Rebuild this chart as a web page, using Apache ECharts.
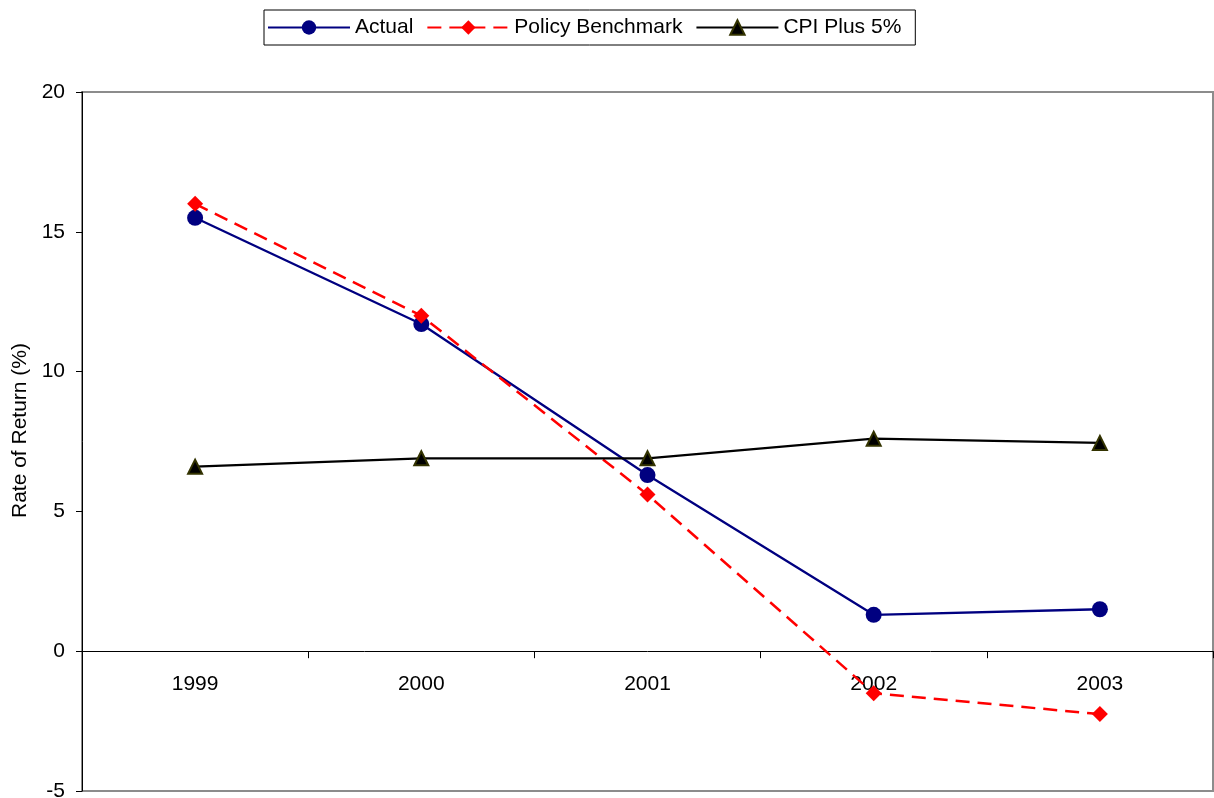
<!DOCTYPE html>
<html>
<head>
<meta charset="utf-8">
<script src="https://cdn.jsdelivr.net/npm/echarts@6/dist/echarts.min.js"></script>
<style>
  html, body { margin: 0; padding: 0; background: #fff; }
  #chart { width: 1214px; height: 798px; }
</style>
</head>
<body>
<div id="chart"></div>
<script>
var years = ['1999', '2000', '2001', '2002', '2003'];
var actual = [15.5, 11.7, 6.3, 1.3, 1.5];
var policyBenchmark = [16.0, 12.0, 5.6, -1.5, -2.25];
var cpiPlus5 = [6.6, 6.9, 6.9, 7.6, 7.45];

var myChart = echarts.init(document.getElementById('chart'));
var font = '"Liberation Sans", Arial, sans-serif';

var option = {
  animation: false,
  textStyle: { fontFamily: font },
  legend: {
    left: 264,
    top: 10,
    padding: [7, 14, 7, 3],
    itemGap: 13,
    itemWidth: 82,
    itemHeight: 18,
    borderColor: '#000',
    borderWidth: 1,
    textStyle: { fontSize: 21, color: '#000', fontFamily: font },
    data: ['Actual', 'Policy Benchmark', 'CPI Plus 5%']
  },
  grid: {
    left: 82,
    right: 1,
    top: 92,
    bottom: 7,
    show: true,
    borderColor: '#8c8c8c',
    borderWidth: 2,
    containLabel: false,
    outerBoundsMode: 'none'
  },
  xAxis: [
    {
      type: 'category',
      data: years,
      boundaryGap: true,
      axisLine: { onZero: true, lineStyle: { color: '#000', width: 1 } },
      axisTick: { show: true, length: 7, lineStyle: { color: '#000' } },
      axisLabel: { show: false },
      splitLine: { show: false }
    },
    {
      // labels sit just under the zero line, like the original
      type: 'category',
      data: years,
      position: 'bottom',
      offset: -140,
      boundaryGap: true,
      axisLine: { show: false, onZero: false },
      axisTick: { show: false },
      axisLabel: { margin: 23, fontSize: 21, color: '#000', fontFamily: font },
      splitLine: { show: false }
    }
  ],
  yAxis: {
    type: 'value',
    min: -5,
    max: 20,
    interval: 5,
    name: 'Rate of Return (%)',
    nameLocation: 'middle',
    nameGap: 50,
    nameTextStyle: { fontSize: 21, color: '#000', fontFamily: font, padding: [0, 0, 0, 22] },
    axisLine: { show: true, lineStyle: { color: '#000', width: 1 } },
    axisTick: { show: true, length: 6, lineStyle: { color: '#000' } },
    axisLabel: { margin: 17, fontSize: 21, color: '#000', fontFamily: font },
    splitLine: { show: false }
  },
  series: [
    {
      name: 'Actual',
      type: 'line',
      data: actual,
      symbol: 'circle',
      symbolSize: 16,
      lineStyle: { color: '#000080', width: 2.3 },
      itemStyle: { color: '#000080' }
    },
    {
      name: 'Policy Benchmark',
      type: 'line',
      data: policyBenchmark,
      symbol: 'diamond',
      symbolSize: 16,
      lineStyle: { color: '#ff0000', width: 2.5, type: [14, 8] },
      itemStyle: { color: '#ff0000' }
    },
    {
      name: 'CPI Plus 5%',
      type: 'line',
      data: cpiPlus5,
      symbol: 'triangle',
      symbolSize: 14,
      lineStyle: { color: '#000', width: 2.3 },
      itemStyle: { color: '#000', borderColor: '#333300', borderWidth: 2 }
    }
  ]
};

myChart.setOption(option);
</script>
</body>
</html>
